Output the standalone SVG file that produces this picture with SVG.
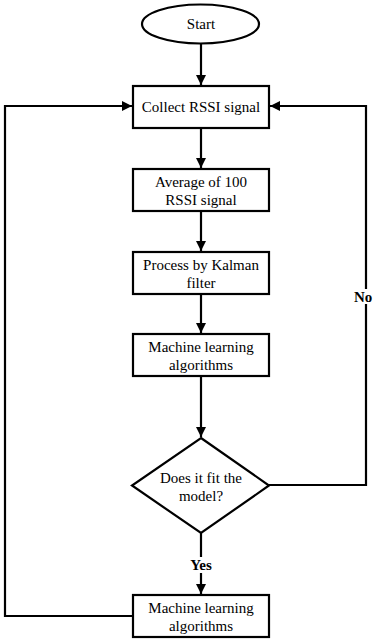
<svg xmlns="http://www.w3.org/2000/svg" width="373" height="639" viewBox="0 0 373 639">
<style>
.s{fill:#fff;stroke:#000;stroke-width:2.2}
.t{font-family:"Liberation Serif","Times New Roman",serif;font-size:15px;fill:#000;text-anchor:middle}
.b{font-weight:bold}
.c{fill:none;stroke:#000;stroke-width:2.2}
</style>
<defs>
<marker id="ah" viewBox="0 0 10 10" refX="10" refY="5" markerWidth="10" markerHeight="10" markerUnits="userSpaceOnUse" orient="auto">
<path d="M0,0 L10,5 L0,10 z" fill="#000"/>
</marker>
</defs>
<rect width="373" height="639" fill="#fff"/>
<g id="connectors">
<line class="c" x1="201" y1="43" x2="201" y2="85" marker-end="url(#ah)"/>
<line class="c" x1="201" y1="128" x2="201" y2="168" marker-end="url(#ah)"/>
<line class="c" x1="201" y1="211" x2="201" y2="251" marker-end="url(#ah)"/>
<line class="c" x1="201" y1="294" x2="201" y2="333" marker-end="url(#ah)"/>
<line class="c" x1="201" y1="376" x2="201" y2="437" marker-end="url(#ah)"/>
<line class="c" x1="201" y1="533" x2="201" y2="594" marker-end="url(#ah)"/>
<polyline class="c" points="133,616 5,616 5,106 132,106" marker-end="url(#ah)"/>
<polyline class="c" points="269,485 366,485 366,106 270,106" marker-end="url(#ah)"/>
<rect x="186" y="557" width="30" height="16" fill="#fff"/>
<text class="t b" x="201" y="570">Yes</text>
<rect x="353" y="289" width="20" height="15" fill="#fff"/>
<text class="t b" x="354" y="302" style="text-anchor:start">No</text>
</g>
<g id="start">
<ellipse class="s" cx="200.5" cy="24" rx="58.5" ry="19.5"/>
<text class="t" x="201" y="29">Start</text>
</g>
<g id="collect">
<rect class="s" x="133" y="86" width="136" height="42"/>
<text class="t" x="201" y="112">Collect RSSI signal</text>
</g>
<g id="average">
<rect class="s" x="133" y="169" width="136" height="42"/>
<text class="t" x="201" y="186.5">Average of 100</text>
<text class="t" x="201" y="204.5">RSSI signal</text>
</g>
<g id="kalman">
<rect class="s" x="133" y="252" width="136" height="42"/>
<text class="t" x="201" y="269.5">Process by Kalman</text>
<text class="t" x="201" y="287.5">filter</text>
</g>
<g id="ml1">
<rect class="s" x="133" y="334" width="136" height="42"/>
<text class="t" x="201" y="351.5">Machine learning</text>
<text class="t" x="201" y="369.5">algorithms</text>
</g>
<g id="decision">
<polygon class="s" points="201,438 269,485.5 201,533 132,485.5"/>
<text class="t" x="201" y="483">Does it fit the</text>
<text class="t" x="201" y="501">model?</text>
</g>
<g id="ml2">
<rect class="s" x="133" y="595" width="136" height="42"/>
<text class="t" x="201" y="612.5">Machine learning</text>
<text class="t" x="201" y="630.5">algorithms</text>
</g>
</svg>
